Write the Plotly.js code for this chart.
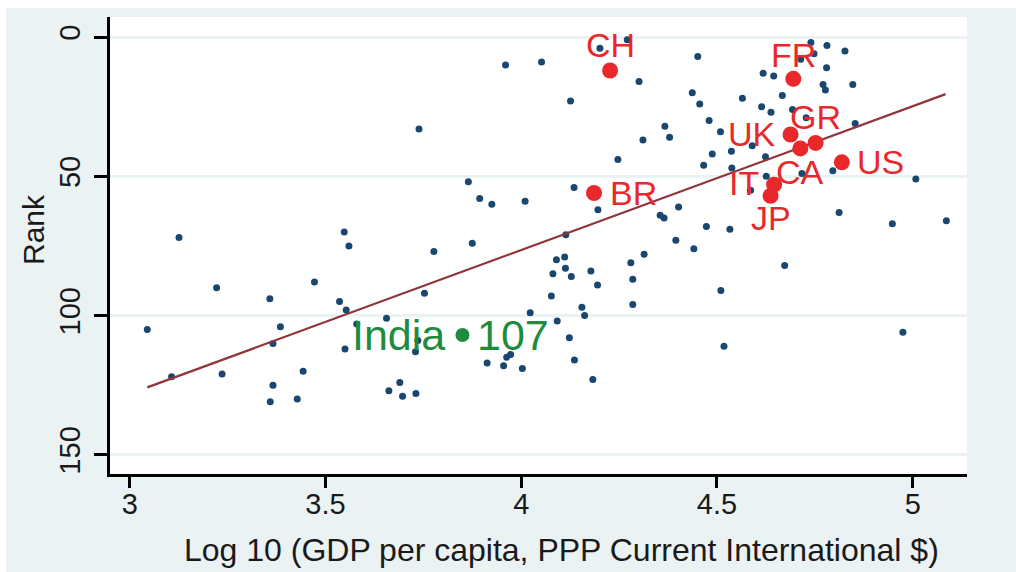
<!DOCTYPE html>
<html>
<head>
<meta charset="utf-8">
<script src="https://cdn.plot.ly/plotly-3.0.1.min.js"></script>
<style>
  html, body { margin: 0; padding: 0; background: #ffffff; width: 1016px; height: 572px; overflow: hidden; }
  #chart { position: absolute; left: 6px; top: 8px; width: 1010px; height: 564px; }
</style>
</head>
<body>
<div id="chart"></div>
<script>
// ---- Data ----
// Log10 GDP per capita (PPP) for all other countries
const gdpLog = [
  3.126, 3.960, 4.052, 3.739, 3.865, 3.894, 3.925, 4.010, 3.548, 3.560,
  3.875, 4.201, 4.271, 4.451, 4.301, 4.126, 4.437, 4.456, 4.565, 4.614,
  4.367, 4.379, 4.311, 4.480, 4.509, 4.247, 4.488, 4.537, 4.590, 4.466,
  4.538, 4.135, 4.196, 4.355, 4.365, 4.402, 4.473, 4.533, 4.586, 4.114,
  4.395, 4.441, 4.740, 4.781, 4.827, 4.748, 4.714, 4.780, 4.618, 4.645,
  4.771, 4.777, 4.847, 4.667, 4.638, 4.693, 4.728, 4.853, 4.624, 4.626,
  4.717, 4.796, 5.008, 4.812, 4.948, 5.086, 4.673, 4.090, 4.111, 4.081,
  4.113, 4.128, 4.178, 4.195, 4.280, 4.314, 4.285, 4.285, 4.510, 4.518,
  4.077, 4.155, 4.162, 4.092, 4.123, 4.136, 4.183, 3.777, 3.753, 3.536,
  3.553, 3.656, 3.580, 3.550, 3.736, 3.730, 4.023, 3.913, 3.955, 3.963,
  3.973, 4.003, 3.690, 3.662, 3.697, 3.731, 3.045, 3.222, 3.358, 3.472,
  3.385, 3.366, 3.107, 3.236, 3.443, 3.366, 3.359, 3.428, 4.975
];
// Rank for the same countries
const rankAll = [
  72, 10, 9, 33, 52, 58, 60, 59, 70, 75,
  74, 4, 1, 7, 16, 23, 20, 24, 22, 25,
  32, 36, 37, 30, 34, 44, 42, 41, 39, 46,
  47, 54, 62, 64, 65, 61, 68, 69, 55, 71,
  73, 76, 2, 3, 5, 6, 8, 11, 13, 14,
  17, 19, 17, 21, 27, 26, 29, 31, 43, 50,
  49, 48, 51, 63, 67, 66, 82, 80, 79, 85,
  83, 86, 84, 89, 81, 78, 87, 96, 91, 111,
  93, 97, 100, 102, 108, 116, 123, 77, 92, 95,
  98, 101, 103, 112, 109, 113, 99, 117, 118, 115,
  114, 119, 124, 127, 129, 128, 105, 90, 94, 88,
  104, 110, 122, 121, 120, 125, 131, 130, 106
];

// Highlighted countries
const hiCodes = ["CH", "FR", "UK", "GR", "CA", "US", "IT", "JP", "BR"];
const hiGdpLog = [4.227, 4.695, 4.688, 4.752, 4.713, 4.819, 4.646, 4.637, 4.186];
const hiRank = [12, 15, 35, 38, 40, 45, 53, 57, 56];

// India
const indiaName = "India";
const indiaGdpLog = [3.850];
const indiaRank = [107];

// Fitted line end points
const fitGdpLog = [3.045, 5.084];
const fitRank = [125.8, 20.5];

// Axis ticks and titles
const xTicks = [3, 3.5, 4, 4.5, 5];
const xTickText = ["3", "3.5", "4", "4.5", "5"];
const yTicks = [0, 50, 100, 150];
const yTickText = ["0", "50", "100", "150"];
const xTitle = "Log 10 (GDP per capita, PPP Current International $)";
const yTitle = "Rank";

// ---- Styles ----
// label placement relative to its marker (anchor, pixel shift)
const labelStyle = {
  CH: { xanchor: "center", yanchor: "middle", xshift: 0,     yshift: 25 },
  FR: { xanchor: "center", yanchor: "middle", xshift: 0,     yshift: 24 },
  UK: { xanchor: "right",  yanchor: "middle", xshift: -13,   yshift: 1 },
  GR: { xanchor: "center", yanchor: "middle", xshift: 0,     yshift: 26 },
  CA: { xanchor: "center", yanchor: "middle", xshift: 0,     yshift: -24 },
  US: { xanchor: "left",   yanchor: "middle", xshift: 13,    yshift: 0 },
  IT: { xanchor: "right",  yanchor: "middle", xshift: -13,   yshift: 2 },
  JP: { xanchor: "center", yanchor: "middle", xshift: 0,     yshift: -22 },
  BR: { xanchor: "left",   yanchor: "middle", xshift: 14,    yshift: 0 }
};
const RED = "#E8282B";
const NAVY = "#1A476F";
const GREEN = "#1E8C3C";
const MAROON = "#90353B";
const BG = "#EAF2F3";
const TXT = "#1a1a1a";
const FONT = "Liberation Sans, Arial, sans-serif";

const traces = [
  {
    x: gdpLog, y: rankAll, mode: "markers", type: "scatter",
    marker: { color: NAVY, size: 7, line: { width: 0 } }
  },
  {
    x: fitGdpLog, y: fitRank, mode: "lines", type: "scatter",
    line: { color: MAROON, width: 2.2 }
  },
  {
    x: hiGdpLog, y: hiRank, mode: "markers", type: "scatter",
    marker: { color: RED, size: 16, line: { width: 0 } }
  },
  {
    x: indiaGdpLog, y: indiaRank, mode: "markers", type: "scatter",
    marker: { color: GREEN, size: 14, line: { width: 0 } }
  }
];

const annotations = [];
hiCodes.forEach((c, i) => {
  const s = labelStyle[c];
  annotations.push({
    x: hiGdpLog[i], y: hiRank[i], xref: "x", yref: "y",
    text: c, showarrow: false,
    xanchor: s.xanchor, yanchor: s.yanchor, xshift: s.xshift, yshift: s.yshift,
    font: { family: FONT, size: 34, color: RED }
  });
});
annotations.push({
  x: indiaGdpLog[0], y: indiaRank[0], xref: "x", yref: "y",
  text: indiaName, showarrow: false, xanchor: "right", yanchor: "middle",
  xshift: -15, yshift: 0, font: { family: FONT, size: 43, color: GREEN }
});
annotations.push({
  x: indiaGdpLog[0], y: indiaRank[0], xref: "x", yref: "y",
  text: String(indiaRank[0]), showarrow: false, xanchor: "left", yanchor: "middle",
  xshift: 13, yshift: 0, font: { family: FONT, size: 43, color: GREEN }
});
// axis titles
annotations.push({
  x: 0.5265, y: -0.1656, xref: "paper", yref: "paper",
  text: xTitle, showarrow: false, xanchor: "center", yanchor: "middle",
  font: { family: FONT, size: 32, color: TXT }
});
annotations.push({
  x: -0.0895, y: 0.5346, xref: "paper", yref: "paper",
  text: yTitle, showarrow: false, xanchor: "center", yanchor: "middle",
  textangle: -90, font: { family: FONT, size: 30, color: TXT }
});

const layout = {
  width: 1010, height: 564,
  margin: { l: 104, r: 49, t: 9, b: 98, pad: 0 },
  paper_bgcolor: BG, plot_bgcolor: "#ffffff",
  showlegend: false,
  font: { family: FONT, color: TXT },
  annotations: annotations,
  xaxis: {
    range: [2.9497, 5.1387], autorange: false,
    tickmode: "array", tickvals: xTicks, ticktext: xTickText,
    showgrid: false, zeroline: false,
    showline: true, linecolor: "#000000", linewidth: 3,
    ticks: "outside", ticklen: 11, tickwidth: 3, tickcolor: "#000000",
    tickfont: { family: FONT, size: 29, color: TXT },
    ticklabelstandoff: -9,
    automargin: false
  },
  yaxis: {
    range: [156.9, -7.2], autorange: false,
    tickmode: "array", tickvals: yTicks, ticktext: yTickText,
    tickangle: -90,
    showgrid: true, gridcolor: BG, gridwidth: 3,
    zeroline: false,
    showline: true, linecolor: "#000000", linewidth: 3,
    ticks: "outside", ticklen: 13, tickwidth: 3, tickcolor: "#000000",
    tickfont: { family: FONT, size: 29, color: TXT },
    ticklabelstandoff: 2,
    automargin: false
  }
};

Plotly.newPlot("chart", traces, layout, { displayModeBar: false, staticPlot: true });
</script>
</body>
</html>
